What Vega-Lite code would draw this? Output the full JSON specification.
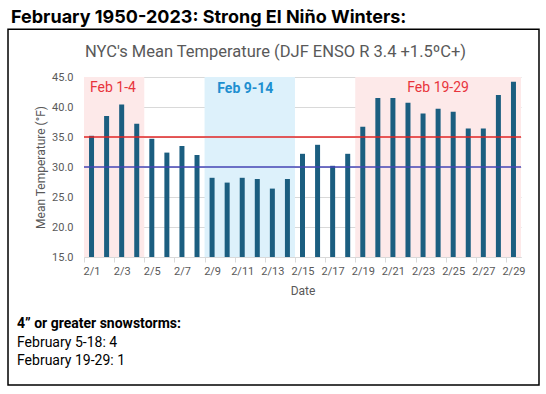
{
  "$schema": "https://vega.github.io/schema/vega-lite/v6.json",
  "autosize": {"type": "none"},
  "padding": {"left": 84, "top": 77, "right": 25, "bottom": 137},
  "width": 437,
  "height": 180,
  "background": "white",
  "data": {"values": [{}]},
  "config": {
    "font": "Roboto",
    "view": {"stroke": null},
    "axis": {"labelOverlap": false, "labelFlush": false}
  },
  "datasets": {
    "temps": [
      {"day": 1, "temp": 35.2}, {"day": 2, "temp": 38.5}, {"day": 3, "temp": 40.4}, {"day": 4, "temp": 37.2},
      {"day": 5, "temp": 34.7}, {"day": 6, "temp": 32.4}, {"day": 7, "temp": 33.5}, {"day": 8, "temp": 32.0},
      {"day": 9, "temp": 28.2}, {"day": 10, "temp": 27.4}, {"day": 11, "temp": 28.2}, {"day": 12, "temp": 28.0},
      {"day": 13, "temp": 26.4}, {"day": 14, "temp": 28.0}, {"day": 15, "temp": 32.2}, {"day": 16, "temp": 33.7},
      {"day": 17, "temp": 30.2}, {"day": 18, "temp": 32.2}, {"day": 19, "temp": 36.7}, {"day": 20, "temp": 41.5},
      {"day": 21, "temp": 41.5}, {"day": 22, "temp": 40.7}, {"day": 23, "temp": 38.9}, {"day": 24, "temp": 39.7},
      {"day": 25, "temp": 39.2}, {"day": 26, "temp": 36.4}, {"day": 27, "temp": 36.4}, {"day": 28, "temp": 42.0},
      {"day": 29, "temp": 44.2}
    ],
    "zones": [
      {"zone": "warm", "from": 0.5, "to": 4.5},
      {"zone": "cold", "from": 8.5, "to": 14.5},
      {"zone": "warm", "from": 18.5, "to": 29.5}
    ],
    "thresholds": [
      {"level": "35", "value": 35},
      {"level": "30", "value": 30}
    ]
  },
  "layer": [
    {
      "data": {"name": "zones"},
      "mark": {"type": "rect"},
      "encoding": {
        "x": {
          "field": "from", "type": "quantitative",
          "scale": {"domain": [0.5, 29.5], "nice": false, "zero": false, "padding": 0},
          "axis": {
            "values": [0.5, 2.5, 4.5, 6.5, 8.5, 10.5, 12.5, 14.5, 16.5, 18.5, 20.5, 22.5, 24.5, 26.5, 28.5],
            "tickCount": 40,
            "labelExpr": "'2/' + (datum.value + 0.5)",
            "labelOffset": 7.53,
            "labelFlush": false,
            "labelOverlap": false,
            "labelFontSize": 11,
            "labelColor": "#595959",
            "labelPadding": 3,
            "grid": false,
            "domainColor": "#D9D9D9",
            "tickColor": "#D9D9D9",
            "tickSize": 5,
            "title": "Date",
            "titleFontSize": 12,
            "titleFontWeight": "normal",
            "titleColor": "#595959",
            "titlePadding": 9
          }
        },
        "x2": {"field": "to"},
        "y": {
          "datum": 45, "type": "quantitative",
          "scale": {"domain": [15, 45], "nice": false, "zero": false, "padding": 0},
          "axis": {
            "values": [15, 20, 25, 30, 35, 40, 45],
            "tickCount": 20,
            "format": ".1f",
            "labelOverlap": false,
            "labelFontSize": 11,
            "labelColor": "#595959",
            "labelPadding": 11,
            "ticks": false,
            "domain": false,
            "grid": true,
            "gridColor": "#D9D9D9",
            "title": "Mean Temperature (°F)",
            "titleFontSize": 12,
            "titleFontWeight": "normal",
            "titleColor": "#595959",
            "titlePadding": 4
          }
        },
        "y2": {"datum": 15},
        "color": {"field": "zone", "type": "nominal", "scale": {"domain": ["warm", "cold"], "range": ["#FDE9E9", "#DDF1FB"]}, "legend": null}
      }
    },
    {
      "mark": {"type": "rect", "fill": "transparent", "stroke": "#000000", "strokeWidth": 1.5},
      "encoding": {
        "x": {"datum": -4.543, "type": "quantitative"},
        "x2": {"datum": 30.694},
        "y": {"datum": 52.95, "type": "quantitative"},
        "y2": {"datum": -6.333}
      }
    },
    {
      "data": {"name": "temps"},
      "mark": {"type": "bar", "width": 5, "color": "#1B5E80"},
      "encoding": {
        "x": {"field": "day", "type": "quantitative"},
        "y": {"field": "temp", "type": "quantitative"},
        "y2": {"datum": 15}
      }
    },
    {
      "data": {"name": "thresholds"},
      "mark": {"type": "rule", "strokeWidth": 1.3},
      "encoding": {
        "y": {"field": "value", "type": "quantitative"},
        "stroke": {"field": "level", "type": "nominal", "scale": {"domain": ["35", "30"], "range": ["#E02424", "#4545B5"]}, "legend": null}
      }
    },
    {
      "mark": {"type": "text", "align": "left", "baseline": "alphabetic", "fontSize": 14, "color": "#E8343C"},
      "encoding": {
        "x": {"datum": 0.898, "type": "quantitative"},
        "y": {"datum": 42.5, "type": "quantitative"},
        "text": {"datum": "Feb 1-4"}
      }
    },
    {
      "mark": {"type": "text", "align": "left", "baseline": "alphabetic", "fontSize": 14, "fontWeight": "bold", "color": "#1E8FD0"},
      "encoding": {
        "x": {"datum": 9.346, "type": "quantitative"},
        "y": {"datum": 42.4, "type": "quantitative"},
        "text": {"datum": "Feb 9-14"}
      }
    },
    {
      "mark": {"type": "text", "align": "center", "baseline": "alphabetic", "fontSize": 14, "color": "#E8343C"},
      "encoding": {
        "x": {"datum": 24, "type": "quantitative"},
        "y": {"datum": 42.45, "type": "quantitative"},
        "text": {"datum": "Feb 19-29"}
      }
    },
    {
      "mark": {"type": "text", "align": "left", "baseline": "alphabetic", "font": "Inter", "fontSize": 18, "fontWeight": "bold", "color": "#000000"},
      "encoding": {
        "x": {"datum": -4.344, "type": "quantitative"},
        "y": {"datum": 54.05, "type": "quantitative"},
        "text": {"datum": "February 1950-2023: Strong El Niño Winters:"}
      }
    },
    {
      "mark": {"type": "text", "align": "center", "baseline": "alphabetic", "fontSize": 16.5, "color": "#595959"},
      "encoding": {
        "x": {"datum": 13.21, "type": "quantitative"},
        "y": {"datum": 48.28, "type": "quantitative"},
        "text": {"datum": "NYC's Mean Temperature (DJF ENSO R 3.4 +1.5ºC+)"}
      }
    },
    {
      "mark": {"type": "text", "align": "left", "baseline": "alphabetic", "fontSize": 14, "fontWeight": "bold", "color": "#000000"},
      "encoding": {
        "x": {"datum": -3.946, "type": "quantitative"},
        "y": {"datum": 3.117, "type": "quantitative"},
        "text": {"datum": "4” or greater snowstorms:"}
      }
    },
    {
      "mark": {"type": "text", "align": "left", "baseline": "alphabetic", "fontSize": 14, "color": "#000000"},
      "encoding": {
        "x": {"datum": -3.946, "type": "quantitative"},
        "y": {"datum": 0.05, "type": "quantitative"},
        "text": {"datum": "February 5-18: 4"}
      }
    },
    {
      "mark": {"type": "text", "align": "left", "baseline": "alphabetic", "fontSize": 14, "color": "#000000"},
      "encoding": {
        "x": {"datum": -3.946, "type": "quantitative"},
        "y": {"datum": -3.0, "type": "quantitative"},
        "text": {"datum": "February 19-29: 1"}
      }
    }
  ]
}
